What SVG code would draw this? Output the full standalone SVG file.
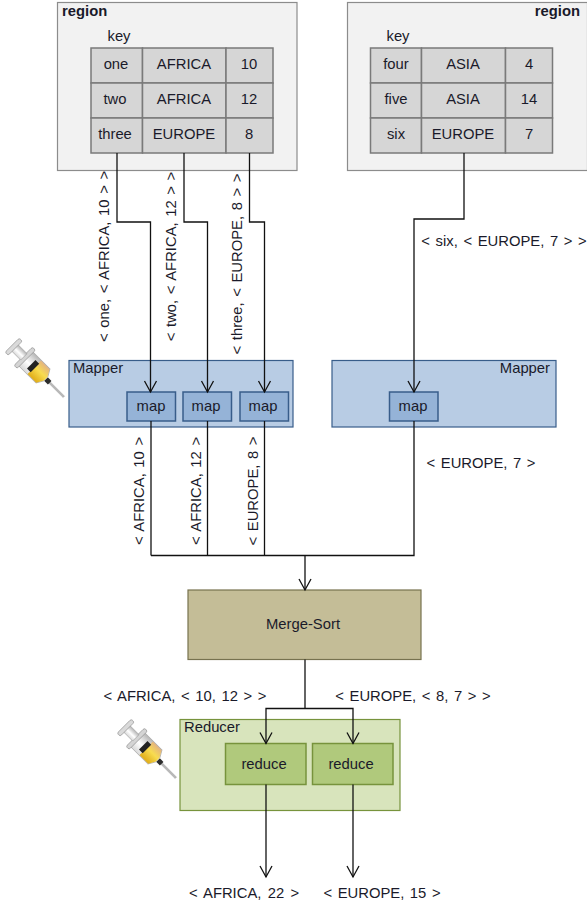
<svg xmlns="http://www.w3.org/2000/svg" width="587" height="905" viewBox="0 0 587 905">
<style>
text{font-family:"Liberation Sans",Arial,sans-serif;font-size:14.8px;fill:#1a1a2a;text-anchor:middle}
.b{font-weight:bold}
.s{text-anchor:start}
.e{text-anchor:end}
.l{word-spacing:1.5px}
.w{word-spacing:2.2px}
.region{fill:#f2f2f2;stroke:#8c8c8c;stroke-width:1.2}
.cell{fill:#d6d6d6;stroke:#7a7a7a;stroke-width:1.5}
.mapper{fill:#b8cce4;stroke:#385d8a;stroke-width:1.2}
.map{fill:#95b3d7;stroke:#385d8a;stroke-width:1.5}
.reducer{fill:#d8e4bc;stroke:#77933c;stroke-width:1.2}
.reduce{fill:#b0c97c;stroke:#77933c;stroke-width:1.5}
.merge{fill:#c4bd97;stroke:#77724f;stroke-width:1.2}
.c{fill:none;stroke:#111;stroke-width:1.3}
</style>
<defs>
<marker id="arrow" markerUnits="userSpaceOnUse" markerWidth="14" markerHeight="16" refX="12" refY="7" orient="auto" viewBox="0 0 14 14"><path d="M1 1L12 7L1 13" fill="none" stroke="#111" stroke-width="1.3"/></marker>
<linearGradient id="barrel" x1="0" y1="0" x2="1" y2="0"><stop offset="0" stop-color="#d8d8d8"/><stop offset="0.45" stop-color="#fff"/><stop offset="1" stop-color="#b4b4b4"/></linearGradient>
<linearGradient id="fluid" x1="0" y1="0" x2="1" y2="0"><stop offset="0" stop-color="#e0ac18"/><stop offset="0.55" stop-color="#f8dc50"/><stop offset="1" stop-color="#e4b480"/></linearGradient>
<g id="syringe">
<rect x="-1" y="16" width="2" height="26" fill="#b8b8b8" stroke="#8c8c8c" stroke-width="0.4"/>
<rect x="-2.500" y="12" width="5" height="7" fill="#2c2c2c"/>
<path d="M-10 -20H10V8L2.500 13H-2.500L-10 8Z" fill="url(#barrel)" stroke="#a8a8a8" stroke-width="0.8"/>
<path d="M-9.500 -6H9.500V8L2.500 12.500H-2.500L-9.500 8Z" fill="url(#fluid)"/>
<rect x="-6" y="-11" width="12" height="6" fill="#222"/>
<rect x="-13" y="-24" width="26" height="5" rx="2" fill="#d4d4d4" stroke="#8c8c8c" stroke-width="0.7"/>
<rect x="-4.500" y="-38" width="9" height="15" fill="url(#barrel)" stroke="#a0a0a0" stroke-width="0.7"/>
<rect x="-10" y="-42" width="20" height="5" rx="2" fill="#dadada" stroke="#8c8c8c" stroke-width="0.7"/>
</g>
</defs>

<g id="region-left">
<rect class="region" x="57.500" y="2.500" width="239.500" height="168"/>
<text class="b s" x="62" y="16">region</text>
<text x="119" y="41">key</text>
<rect class="cell" x="91" y="48" width="51.500" height="35"/><rect class="cell" x="142.500" y="48" width="83.500" height="35"/><rect class="cell" x="226" y="48" width="47" height="35"/>
<rect class="cell" x="91" y="83" width="51.500" height="35"/><rect class="cell" x="142.500" y="83" width="83.500" height="35"/><rect class="cell" x="226" y="83" width="47" height="35"/>
<rect class="cell" x="91" y="118" width="51.500" height="35"/><rect class="cell" x="142.500" y="118" width="83.500" height="35"/><rect class="cell" x="226" y="118" width="47" height="35"/>
<text x="116" y="69">one</text><text x="184" y="69">AFRICA</text><text x="249" y="69">10</text>
<text x="115" y="104">two</text><text x="184" y="104">AFRICA</text><text x="249" y="104">12</text>
<text x="115" y="139">three</text><text x="184" y="139">EUROPE</text><text x="249" y="139">8</text>
</g>

<g id="region-right">
<rect class="region" x="347.500" y="2.500" width="240" height="168"/>
<text class="b e" x="580" y="16">region</text>
<text x="398" y="41">key</text>
<rect class="cell" x="370.500" y="48" width="51" height="35"/><rect class="cell" x="421.500" y="48" width="84" height="35"/><rect class="cell" x="505.500" y="48" width="47" height="35"/>
<rect class="cell" x="370.500" y="83" width="51" height="35"/><rect class="cell" x="421.500" y="83" width="84" height="35"/><rect class="cell" x="505.500" y="83" width="47" height="35"/>
<rect class="cell" x="370.500" y="118" width="51" height="35"/><rect class="cell" x="421.500" y="118" width="84" height="35"/><rect class="cell" x="505.500" y="118" width="47" height="35"/>
<text x="396" y="69">four</text><text x="463" y="69">ASIA</text><text x="529" y="69">4</text>
<text x="396" y="104">five</text><text x="463" y="104">ASIA</text><text x="529" y="104">14</text>
<text x="396" y="139">six</text><text x="463" y="139">EUROPE</text><text x="529" y="139">7</text>
</g>

<g id="mapper-left">
<rect class="mapper" x="69" y="360.500" width="224" height="66.500"/>
<text class="s" x="73" y="373">Mapper</text>
</g>
<g id="map-1"><rect class="map" x="127" y="392" width="48.500" height="29"/><text x="151" y="411">map</text></g>
<g id="map-2"><rect class="map" x="183" y="392" width="48.500" height="29"/><text x="206" y="411">map</text></g>
<g id="map-3"><rect class="map" x="240" y="392" width="48.500" height="29"/><text x="263" y="411">map</text></g>

<g id="mapper-right">
<rect class="mapper" x="332" y="360.500" width="224" height="66.500"/>
<text class="e" x="550" y="373">Mapper</text>
</g>
<g id="map-4"><rect class="map" x="389.500" y="392" width="48.500" height="29"/><text x="413" y="411">map</text></g>

<g id="merge-sort"><rect class="merge" x="188" y="590" width="233" height="69.500"/><text x="303" y="629">Merge-Sort</text></g>

<g id="reducer">
<rect class="reducer" x="180" y="719.500" width="220" height="91"/>
<text class="s" x="184" y="732">Reducer</text>
</g>
<g id="reduce-1"><rect class="reduce" x="225.500" y="743.500" width="80.500" height="41"/><text x="264" y="769">reduce</text></g>
<g id="reduce-2"><rect class="reduce" x="312.500" y="743.500" width="80.500" height="41"/><text x="351" y="769">reduce</text></g>

<g id="connectors">
<path class="c" marker-end="url(#arrow)" d="M117 153V222H150.500V392"/>
<path class="c" marker-end="url(#arrow)" d="M184 153V222H207.500V392"/>
<path class="c" marker-end="url(#arrow)" d="M249.500 153V222H264.500V392"/>
<path class="c" marker-end="url(#arrow)" d="M464 153V219H414V392"/>
<path class="c" d="M151 421V555.500"/>
<path class="c" d="M207.500 421V555.500"/>
<path class="c" d="M264.500 421V555.500"/>
<path class="c" d="M414 421V555.500H151"/>
<path class="c" marker-end="url(#arrow)" d="M305 555.500V590"/>
<path class="c" d="M305 659.500V708.500"/>
<path class="c" marker-end="url(#arrow)" d="M305 708.500H266V743.500"/>
<path class="c" marker-end="url(#arrow)" d="M305 708.500H353V743.500"/>
<path class="c" marker-end="url(#arrow)" d="M266 784.500V877"/>
<path class="c" marker-end="url(#arrow)" d="M353 784.500V877"/>
</g>

<g id="labels">
<text class="l" transform="translate(109 256.500) rotate(-90)">&lt; one, &lt; AFRICA, 10 &gt; &gt;</text>
<text class="l" transform="translate(176 256.500) rotate(-90)">&lt; two, &lt; AFRICA, 12 &gt; &gt;</text>
<text class="l" transform="translate(242 264) rotate(-90)">&lt; three, &lt; EUROPE, 8 &gt; &gt;</text>
<text class="l" x="504" y="246">&lt; six, &lt; EUROPE, 7 &gt; &gt;</text>
<text class="l" transform="translate(144 491) rotate(-90)">&lt; AFRICA, 10 &gt;</text>
<text class="l" transform="translate(201 491) rotate(-90)">&lt; AFRICA, 12 &gt;</text>
<text class="l" transform="translate(258 491) rotate(-90)">&lt; EUROPE, 8 &gt;</text>
<text class="l" x="481" y="468">&lt; EUROPE, 7 &gt;</text>
<text class="l" x="185" y="701">&lt; AFRICA, &lt; 10, 12 &gt; &gt;</text>
<text class="l" x="413" y="701">&lt; EUROPE, &lt; 8, 7 &gt; &gt;</text>
<text class="w" x="244" y="898">&lt; AFRICA, 22 &gt;</text>
<text class="l" x="382" y="898">&lt; EUROPE, 15 &gt;</text>
</g>

<use href="#syringe" transform="translate(38 371) rotate(-45) scale(1 0.87)"/>
<use href="#syringe" transform="translate(150 752) rotate(-45) scale(1 0.87)"/>
</svg>
